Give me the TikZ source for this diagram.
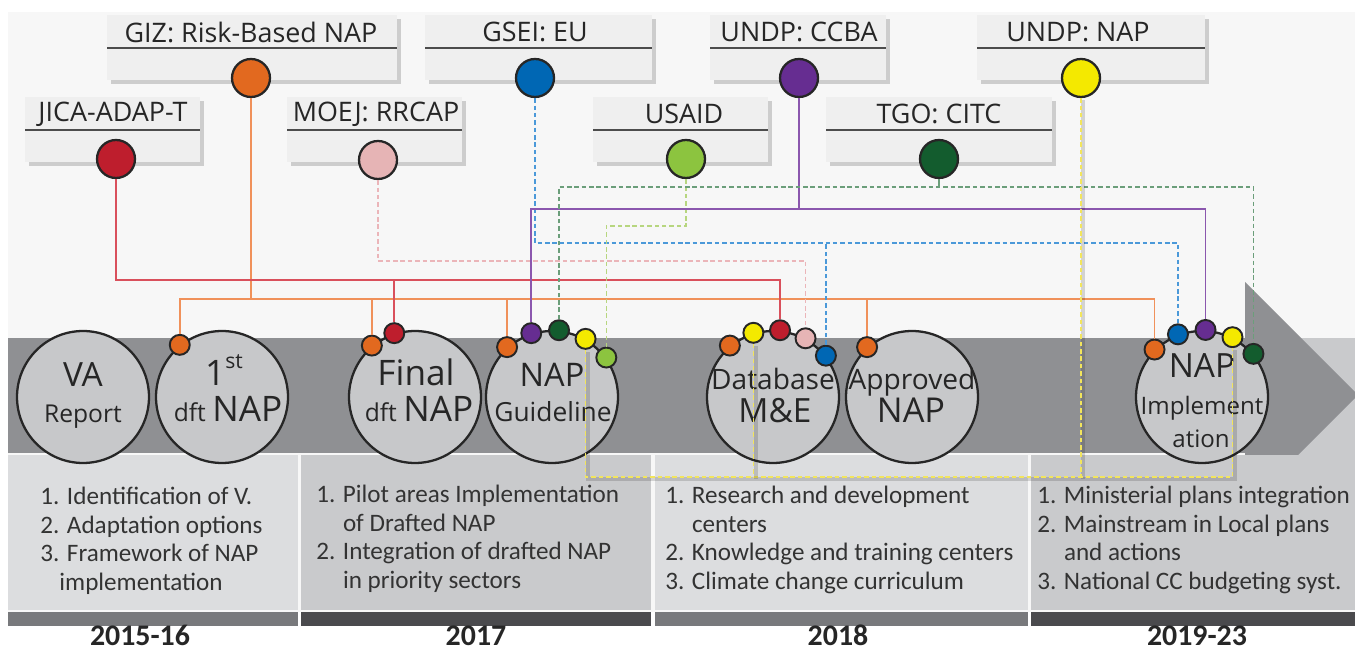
\documentclass[tikz,border=0pt]{standalone}
\usepackage{fontspec}
\setmainfont{Open Sans}
\newfontfamily\listfont{Carlito}
\usetikzlibrary{shadows}

\definecolor{bggray}{HTML}{F7F7F7}
\definecolor{bandgray}{HTML}{8F9093}
\definecolor{bubgray}{HTML}{C7C8CA}
\definecolor{celllight}{HTML}{DCDDDF}
\definecolor{celldark}{HTML}{C9CACC}
\definecolor{barmid}{HTML}{78797C}
\definecolor{bardark}{HTML}{4A4A4D}
\definecolor{boxgray}{HTML}{EFEFEF}
\definecolor{cOrange}{HTML}{E2691F}
\definecolor{cRed}{HTML}{BE1E2D}
\definecolor{cPink}{HTML}{E6B4B5}
\definecolor{cBlue}{HTML}{0067B4}
\definecolor{cLime}{HTML}{8CC43F}
\definecolor{cPurple}{HTML}{662D91}
\definecolor{cForest}{HTML}{135C2E}
\definecolor{cYellow}{HTML}{F4E900}
\definecolor{lOrange}{HTML}{F0915A}
\definecolor{lRed}{HTML}{D9505C}
\definecolor{lPink}{HTML}{EBB5B9}
\definecolor{lBlue}{HTML}{4B99D9}
\definecolor{lLime}{HTML}{B7D67F}
\definecolor{lPurple}{HTML}{8B57AE}
\definecolor{lForest}{HTML}{6B9E7A}
\definecolor{lYellow}{HTML}{F2E55C}

\begin{document}
\begin{tikzpicture}[x=0.02cm,y=-0.02cm,
    bubble/.style={circle,draw=black!85,line width=1.3pt,fill=bubgray,minimum size=2.64cm,inner sep=0},
    rim/.style={circle,draw=black!85,line width=1.1pt,fill=#1,minimum size=0.4cm,inner sep=0},
    orgdot/.style={circle,draw=black!85,line width=1.3pt,fill=#1,minimum size=0.76cm,inner sep=0},
    btxt/.style={anchor=base,inner sep=0,text=black!85},
    ltxt/.style={anchor=north west,inner sep=0,align=left,text=black!80,font=\listfont\fontsize{14.3}{16.2}\selectfont},
    year/.style={anchor=base,inner sep=0,text=black!85,font=\listfont\bfseries\fontsize{17}{17}\selectfont},
    conn/.style={line width=0.9pt},
    dsh/.style={line width=0.9pt,dash pattern=on 2.6pt off 1.6pt},
    yshadow/.style={preaction={draw=black,opacity=.15,line width=2.4pt,solid,transform canvas={shift={(1.3pt,-1.3pt)}}}}]
  \useasboundingbox (0,0) rectangle (1355,651);
  \fill[bggray] (8,12) rectangle (1355,612);

  % time band and arrow head
  \fill[bandgray] (8,338) rectangle (1245,453);
  \fill[celldark] (1245,338) rectangle (1355,455);
  \fill[bandgray] (1245,282) -- (1358,395) -- (1245,508) -- cycle;

  % year columns
  \fill[celllight] (8,455) rectangle (298,610);
  \fill[celldark] (301,455) rectangle (651,610);
  \fill[celllight] (655,455) rectangle (1028,610);
  \fill[celldark] (1031,455) rectangle (1355,610);
  \fill[barmid] (8,612) rectangle (298,626);
  \fill[bardark] (301,612) rectangle (651,626);
  \fill[barmid] (655,612) rectangle (1028,626);
  \fill[bardark] (1031,612) rectangle (1355,626);

  \node[ltxt] at (40,487) {1. Identification of V.\\2. Adaptation options\\3. Framework of NAP\\\phantom{3.}implementation};
  \node[ltxt] at (316,485) {1. Pilot areas Implementation\\\phantom{1. }of Drafted NAP\\2. Integration of drafted NAP\\\phantom{2. }in priority sectors};
  \node[ltxt] at (665,486) {1. Research and development\\\phantom{1. }centers\\2. Knowledge and training centers\\3. Climate change curriculum};
  \node[ltxt] at (1037,486) {1. Ministerial plans integration\\2. Mainstream in Local plans\\\phantom{2. }and actions\\3. National CC budgeting syst.};

  \node[year] at (140,645) {2015-16};
  \node[year] at (476,645) {2017};
  \node[year] at (838,645) {2018};
  \node[year] at (1197,645) {2019-23};

  % partners
  \foreach \n/\l/\r/\t/\cx/\c/\s in {giz/107/397/15/251/cOrange/{GIZ: Risk-Based NAP},
      jica/25/200/97/113/cRed/{JICA-ADAP-T}, moej/287/462/97/376/cPink/{MOEJ: RRCAP},
      gsei/425/652/15/535/cBlue/{GSEI: EU}, usaid/593/768/97/684/cLime/{USAID},
      ccba/710/886/15/799/cPurple/{UNDP: CCBA}, tgo/826/1052/97/939/cForest/{TGO: CITC},
      unap/977/1205/15/1078/cYellow/{UNDP: NAP}}{
    \fill[boxgray,drop shadow={shadow xshift=2pt,shadow yshift=-2pt,opacity=.35}] (\l,\t) rectangle (\r,{\t+65});
    \draw[black!70,line width=1pt] (\l,{\t+33}) -- (\r,{\t+33});
    \node[text=black!85,font=\fontsize{15.3}{17}\selectfont] at (\cx,{\t+17}) {\s};
  }
  \node[orgdot=cOrange] (giz) at (251,78) {};
  \node[orgdot=cRed] (jica) at (116,159) {};
  \node[orgdot=cPink] (moej) at (378,160) {};
  \node[orgdot=cBlue] (gsei) at (535,78) {};
  \node[orgdot=cLime] (usaid) at (686,159) {};
  \node[orgdot=cPurple] (ccba) at (799,78) {};
  \node[orgdot=cForest] (tgo) at (939,159) {};
  \node[orgdot=cYellow] (unap) at (1081,78) {};

  % milestones
  \node[bubble] (va) at (83,397) {};
  \node[bubble] (dft) at (222,397) {};
  \node[bubble] (fin) at (415,397) {};
  \node[bubble] (gde) at (552,397) {};
  \node[bubble] (dbm) at (773,397) {};
  \node[bubble] (apr) at (912,397) {};
  \node[bubble] (imp) at (1202,397) {};

  \node[btxt,font=\fontsize{19}{20}\selectfont] at (83,387) {VA};
  \node[btxt,font=\fontsize{14}{15}\selectfont] at (83,423) {Report};
  \node[btxt,font=\fontsize{20}{22}\selectfont] at (224,386) {1\raisebox{0.5em}{\fontsize{12}{12}\selectfont st}};
  \node[btxt] at (228,422) {\fontsize{14}{15}\selectfont dft \fontsize{20}{22}\selectfont NAP};
  \node[btxt,font=\fontsize{20}{22}\selectfont] at (416,386) {Final};
  \node[btxt] at (419,422) {\fontsize{14}{15}\selectfont dft \fontsize{20}{22}\selectfont NAP};
  \node[btxt,font=\fontsize{18.5}{20}\selectfont] at (552,387) {NAP};
  \node[btxt,font=\fontsize{15}{16}\selectfont] at (553,422) {Guideline};
  \node[btxt,font=\fontsize{16}{18}\selectfont] at (773,390) {Database};
  \node[btxt,font=\fontsize{19}{20}\selectfont] at (775,423) {M\&E};
  \node[btxt,font=\fontsize{16}{18}\selectfont] at (912,390) {Approved};
  \node[btxt,font=\fontsize{19.5}{20}\selectfont] at (911,423) {NAP};
  \node[btxt,font=\fontsize{19}{20}\selectfont] at (1202,378) {NAP};
  \node[btxt,font=\fontsize{13.7}{15}\selectfont] at (1202,415) {Implement};
  \node[btxt,font=\fontsize{13.7}{15}\selectfont] at (1201,448) {ation};

  \node[rim=cOrange] (dfo) at (dft.129) {};
  \node[rim=cOrange] (fno) at (fin.130) {};
  \node[rim=cRed] (fnr) at (fin.108) {};
  \node[rim=cOrange] (gdo) at (gde.132) {};
  \node[rim=cPurple] (gdp) at (gde.108) {};
  \node[rim=cForest] (gdf) at (gde.84) {};
  \node[rim=cYellow] (gdy) at (gde.60) {};
  \node[rim=cLime] (gdl) at (gde.36) {};
  \node[rim=cOrange] (dbo) at (dbm.130) {};
  \node[rim=cYellow] (dby) at (dbm.107) {};
  \node[rim=cRed] (dbr) at (dbm.84) {};
  \node[rim=cPink] (dbk) at (dbm.61) {};
  \node[rim=cBlue] (dbb) at (dbm.38) {};
  \node[rim=cOrange] (apo) at (apr.132) {};
  \node[rim=cOrange] (imo) at (imp.135) {};
  \node[rim=cBlue] (imb) at (imp.111) {};
  \node[rim=cPurple] (imu) at (imp.87) {};
  \node[rim=cYellow] (imy) at (imp.63) {};
  \node[rim=cForest] (imf) at (imp.40) {};

  % links
  \coordinate (ogbus) at (251,299);
  \coordinate (rdbus) at (116,280);
  \coordinate (pkbus) at (378,261);
  \coordinate (blbus) at (535,243);
  \coordinate (lmbus) at (686,226);
  \coordinate (pubus) at (799,209);
  \coordinate (fobus) at (939,187);
  \coordinate (ylbus) at (1081,477);

  \draw[conn,lOrange] (giz) -- (ogbus);
  \draw[conn,lOrange] (dfo) |- (ogbus) -| (imo);
  \draw[conn,lOrange] (fno) -- (fno |- ogbus);
  \draw[conn,lOrange] (gdo) -- (gdo |- ogbus);
  \draw[conn,lOrange] (apo) -- (apo |- ogbus);
  \draw[conn,lRed] (jica) -- (rdbus) -| (dbr);
  \draw[conn,lRed] (fnr) -- (fnr |- rdbus);
  \draw[dsh,lPink] (moej) -- (pkbus) -| (dbk);
  \draw[dsh,lBlue] (gsei) -- (blbus) -| (imb);
  \draw[dsh,lBlue] (dbb) -- (dbb |- blbus);
  \draw[dsh,lLime] (usaid) -- (lmbus) -| (gdl);
  \draw[conn,lPurple] (ccba) -- (pubus);
  \draw[conn,lPurple] (gdp) |- (pubus) -| (imu);
  \draw[conn,lForest] (tgo) -- (fobus);
  \draw[dsh,lForest] (gdf) |- (fobus) -| (imf);
  \draw[dsh,lYellow,yshadow] (unap) -- (ylbus);
  \draw[dsh,lYellow,yshadow] (gdy) |- (ylbus) -| (imy);
  \draw[dsh,lYellow,yshadow] (dby) -- (dby |- ylbus);
\end{tikzpicture}
\end{document}
